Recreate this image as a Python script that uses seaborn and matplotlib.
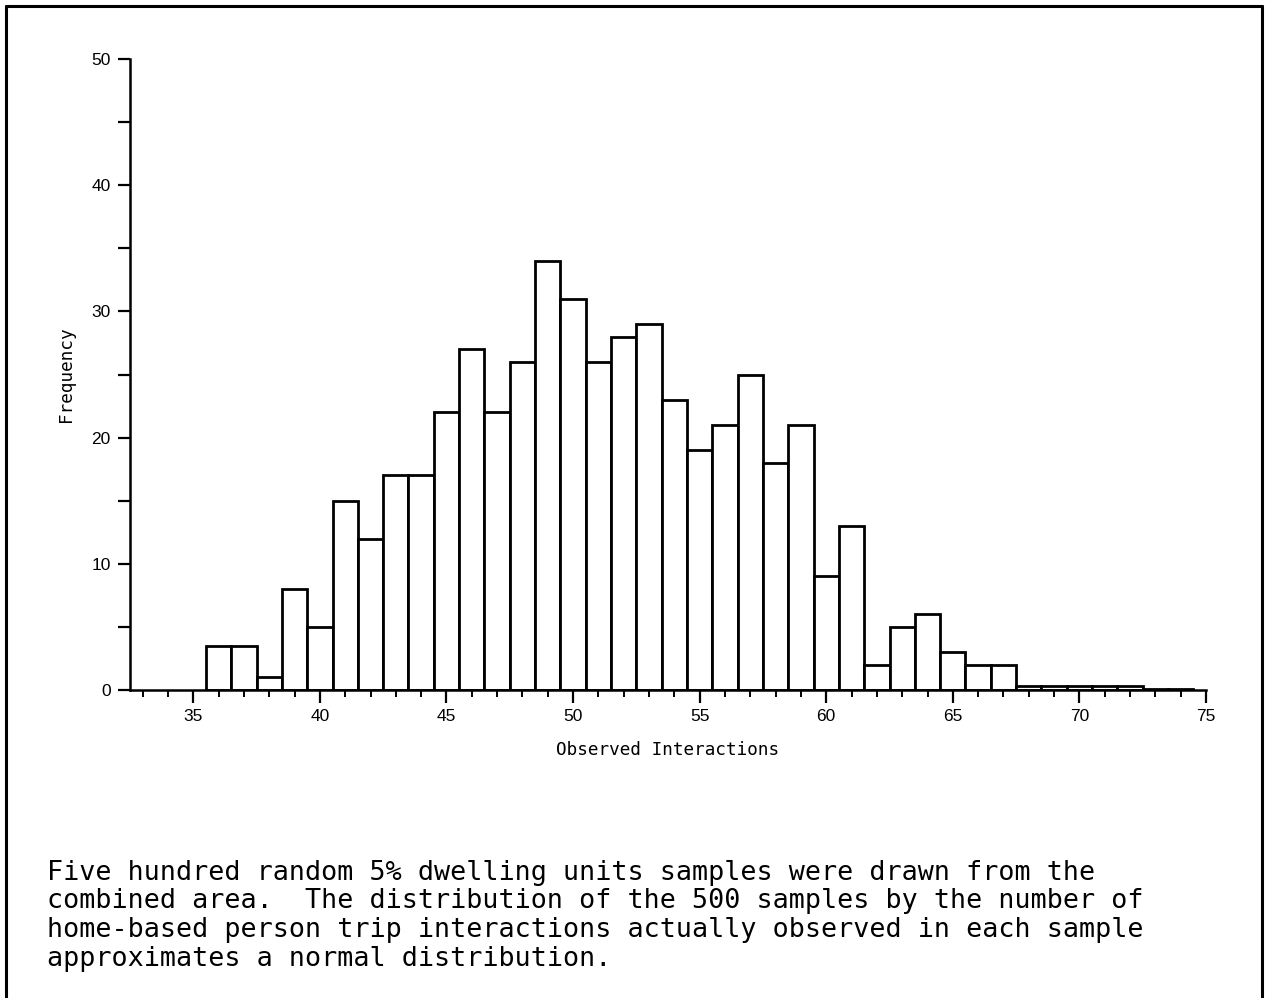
import matplotlib
matplotlib.use("Agg")
import matplotlib.pyplot as plt
from matplotlib.lines import Line2D
from matplotlib.ticker import MultipleLocator
import seaborn as sns
import pandas as pd

# Number of observed interactions per sample (bin centre) and how many samples fell in it
interactions = [36, 37, 38, 39, 40, 41, 42, 43, 44, 45, 46, 47, 48, 49, 50,
                51, 52, 53, 54, 55, 56, 57, 58, 59, 60, 61, 62, 63, 64, 65,
                66, 67, 68, 69, 70, 71, 72, 73, 74]
frequency = [3.5, 3.5, 1, 8, 5, 15, 12, 17, 17, 22, 27, 22, 26, 34, 31,
             26, 28, 29, 23, 19, 21, 25, 18, 21, 9, 13, 2, 5, 6, 3,
             2, 2, 0.3, 0.3, 0.3, 0.3, 0.3, 0.1, 0.1]

x_ticks = [35, 40, 45, 50, 55, 60, 65, 70, 75]
y_ticks = [0, 10, 20, 30, 40, 50]

caption = [
    "Five hundred random 5% dwelling units samples were drawn from the",
    "combined area.  The distribution of the 500 samples by the number of",
    "home-based person trip interactions actually observed in each sample",
    "approximates a normal distribution.",
]

df = pd.DataFrame({"interactions": interactions, "frequency": frequency})

sns.set_theme(style="ticks")
plt.rcParams["font.family"] = ["Liberation Sans", "DejaVu Sans"]

W, H = 1268, 998
fig = plt.figure(figsize=(W / 100, H / 100), dpi=100)
fig.patch.set_facecolor("white")
ax = fig.add_axes([130 / W, 1 - 690 / H, (1206 - 130) / W, (690 - 59) / H])

sns.histplot(data=df, x="interactions", weights="frequency", discrete=True,
             color="white", edgecolor="black", linewidth=2.0, alpha=1,
             ax=ax)

ax.set_xlim(32.5, 75)
ax.set_ylim(0, 50)
ax.set_xticks(x_ticks)
ax.set_yticks(y_ticks)
ax.xaxis.set_minor_locator(MultipleLocator(1))
ax.yaxis.set_minor_locator(MultipleLocator(5))
ax.tick_params(axis="both", which="major", length=9, width=1.6, color="black",
               labelsize=12.5, labelcolor="black", pad=5)
ax.tick_params(axis="x", which="minor", length=5, width=1.4, color="black")
ax.tick_params(axis="y", which="minor", length=9, width=1.6, color="black")
sns.despine(ax=ax)
for side in ("left", "bottom"):
    ax.spines[side].set_linewidth(1.8)
    ax.spines[side].set_color("black")
ax.set_facecolor("white")

ax.set_xlabel("Observed Interactions", family="DejaVu Sans Mono", fontsize=12.7,
              labelpad=12, color="black")
ax.set_ylabel("Frequency", family="DejaVu Sans Mono", fontsize=12.7,
              labelpad=12, color="black")

# Caption beneath the chart
for i, line in enumerate(caption):
    fig.text(47 / W, 1 - (880 + 28.5 * i) / H, line, family="DejaVu Sans Mono",
             fontsize=19.3, color="black", ha="left", va="baseline")

# Page frame
frame = dict(color="black", linewidth=2.2, transform=fig.transFigure)
fig.add_artist(Line2D([6 / W, 6 / W], [0, 1 - 6 / H], **frame))
fig.add_artist(Line2D([6 / W, 1262 / W], [1 - 6 / H, 1 - 6 / H], **frame))
fig.add_artist(Line2D([1262 / W, 1262 / W], [0, 1 - 6 / H], **frame))

fig.savefig("out.png", dpi=100, facecolor="white")
